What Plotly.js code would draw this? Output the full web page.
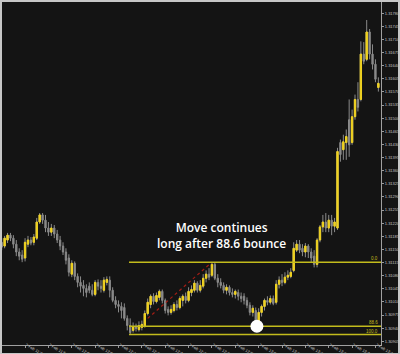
<!DOCTYPE html>
<html>
<head>
<meta charset="utf-8">
<script src="https://cdn.plot.ly/plotly-3.0.1.min.js"></script>
<style>
html,body{margin:0;padding:0;background:#141414;width:400px;height:354px;overflow:hidden;}
#chart{position:absolute;left:0;top:0;width:400px;height:354px;}
#frame{position:absolute;left:0;top:0;width:396px;height:351px;border:2px solid #c6c6c6;border-bottom-width:1px;pointer-events:none;}
</style>
</head>
<body>
<div id="chart"></div>
<div id="frame"></div>
<script>
// 1-minute candles, 7 Feb 11:36 onward
const opens = [1.31169,1.31159,1.31175,1.31188,1.31180,1.31164,1.31143,1.31135,1.31127,1.31164,
1.31175,1.31169,1.31180,1.31223,1.31242,1.31228,1.31207,1.31196,1.31207,1.31191,
1.31175,1.31159,1.31143,1.31127,1.31084,1.31113,1.31078,1.31062,1.31054,1.31046,
1.31052,1.31041,1.31030,1.31062,1.31052,1.31041,1.31062,1.31068,1.31041,1.31014,
1.31003,1.30998,1.30995,1.30966,1.30947,1.30934,1.30944,1.30936,1.30942,1.30944,
1.30979,1.31003,1.31025,1.31011,1.31022,1.31038,1.31014,1.30990,1.30982,1.30987,
1.31003,1.30995,1.31014,1.31025,1.31014,1.31035,1.31041,1.31060,1.31041,1.31052,
1.31073,1.31084,1.31081,1.31110,1.31073,1.31062,1.31054,1.31041,1.31049,1.31035,
1.31030,1.31035,1.31025,1.31025,1.31014,1.31001,1.30982,1.30987,1.30955,1.30982,
1.30998,1.31014,1.31009,1.31019,1.31009,1.31057,1.31068,1.31062,1.31076,1.31078,
1.31094,1.31148,1.31164,1.31153,1.31143,1.31159,1.31143,1.31132,1.31110,1.31175,
1.31210,1.31223,1.31207,1.31228,1.31212,1.31207,1.31435,1.31416,1.31435,1.31496,
1.31435,1.31504,1.31550,1.31550,1.31671,1.31657,1.31730,1.31671,1.31644,1.31582];
const highs = [1.31180,1.31186,1.31194,1.31194,1.31188,1.31175,1.31153,1.31148,1.31180,1.31186,
1.31183,1.31191,1.31234,1.31247,1.31247,1.31242,1.31223,1.31218,1.31215,1.31202,
1.31186,1.31169,1.31153,1.31137,1.31121,1.31118,1.31086,1.31078,1.31068,1.31057,
1.31062,1.31057,1.31068,1.31070,1.31068,1.31076,1.31078,1.31078,1.31049,1.31025,
1.31014,1.31009,1.31006,1.30974,1.30966,1.30955,1.30952,1.30958,1.30960,1.30987,
1.31019,1.31030,1.31033,1.31035,1.31043,1.31043,1.31019,1.30998,1.31001,1.31009,
1.31014,1.31025,1.31030,1.31035,1.31049,1.31054,1.31068,1.31065,1.31068,1.31084,
1.31094,1.31100,1.31116,1.31116,1.31084,1.31073,1.31062,1.31057,1.31054,1.31046,
1.31043,1.31043,1.31035,1.31033,1.31022,1.31009,1.31001,1.30995,1.30993,1.31003,
1.31019,1.31025,1.31027,1.31027,1.31068,1.31078,1.31084,1.31089,1.31094,1.31100,
1.31169,1.31175,1.31175,1.31164,1.31167,1.31164,1.31153,1.31148,1.31180,1.31215,
1.31242,1.31247,1.31242,1.31242,1.31234,1.31421,1.31443,1.31456,1.31470,1.31550,
1.31523,1.31563,1.31596,1.31705,1.31703,1.31762,1.31738,1.31697,1.31657,1.31609];
const lows = [1.31148,1.31153,1.31167,1.31172,1.31153,1.31132,1.31121,1.31116,1.31118,1.31156,
1.31161,1.31161,1.31175,1.31218,1.31218,1.31196,1.31186,1.31186,1.31180,1.31167,
1.31148,1.31135,1.31110,1.31078,1.31076,1.31068,1.31049,1.31035,1.31025,1.31022,
1.31033,1.31025,1.31025,1.31041,1.31035,1.31035,1.31054,1.31022,1.31009,1.30993,
1.30982,1.30966,1.30960,1.30934,1.30923,1.30928,1.30931,1.30931,1.30934,1.30942,
1.30974,1.30993,1.31003,1.31006,1.31014,1.31006,1.30979,1.30974,1.30976,1.30982,
1.30987,1.30990,1.30998,1.31006,1.31009,1.31025,1.31035,1.31035,1.31035,1.31046,
1.31062,1.31068,1.31076,1.31068,1.31049,1.31046,1.31033,1.31030,1.31027,1.31022,
1.31019,1.31014,1.31009,1.31003,1.30993,1.30974,1.30971,1.30942,1.30944,1.30971,
1.30987,1.31001,1.31003,1.31001,1.31003,1.31046,1.31052,1.31057,1.31068,1.31073,
1.31089,1.31143,1.31140,1.31132,1.31129,1.31127,1.31116,1.31102,1.31102,1.31169,
1.31196,1.31196,1.31196,1.31188,1.31196,1.31202,1.31384,1.31389,1.31389,1.31397,
1.31429,1.31496,1.31518,1.31545,1.31644,1.31652,1.31657,1.31630,1.31596,1.31571];
const closes = [1.31156,1.31180,1.31188,1.31180,1.31164,1.31143,1.31132,1.31124,1.31169,1.31175,
1.31167,1.31183,1.31223,1.31242,1.31228,1.31207,1.31196,1.31207,1.31191,1.31175,
1.31159,1.31143,1.31121,1.31089,1.31113,1.31078,1.31062,1.31052,1.31046,1.31035,
1.31041,1.31030,1.31062,1.31052,1.31046,1.31068,1.31070,1.31041,1.31014,1.31003,
1.30998,1.30987,1.30966,1.30947,1.30928,1.30944,1.30939,1.30947,1.30950,1.30979,
1.31009,1.31025,1.31011,1.31027,1.31038,1.31014,1.30987,1.30982,1.30990,1.31003,
1.30995,1.31019,1.31025,1.31014,1.31038,1.31043,1.31060,1.31041,1.31054,1.31073,
1.31084,1.31076,1.31110,1.31073,1.31062,1.31054,1.31041,1.31049,1.31035,1.31030,
1.31038,1.31025,1.31019,1.31014,1.31001,1.30982,1.30993,1.30955,1.30982,1.30998,
1.31014,1.31009,1.31019,1.31006,1.31057,1.31068,1.31062,1.31076,1.31081,1.31089,
1.31153,1.31164,1.31148,1.31143,1.31159,1.31143,1.31127,1.31110,1.31175,1.31210,
1.31223,1.31207,1.31228,1.31212,1.31223,1.31411,1.31403,1.31437,1.31451,1.31429,
1.31504,1.31550,1.31529,1.31671,1.31652,1.31730,1.31671,1.31644,1.31604,1.31593];

const tickLabels = ["7 Feb 11:36","7 Feb 11:44","7 Feb 11:52","7 Feb 12:00","7 Feb 12:08","7 Feb 12:16",
"7 Feb 12:24","7 Feb 12:32","7 Feb 12:40","7 Feb 12:48","7 Feb 12:56","7 Feb 13:04","7 Feb 13:12",
"7 Feb 13:20","7 Feb 13:28","7 Feb 13:36","7 Feb 13:44"];
const minutesPerTick = 8;

const fibLevels = [0.0, 88.6, 100.0];
const fibLabels = ["0.0", "88.6", "100.0"];
const swingLowIdx = 44;
const swingHighIdx = 72;
const bounceIdx = 87;
const trendX = [50, 72];
const trendY = [1.30966, 1.31116];
const noteText = "Move continues<br>long after 88.6 bounce";

const idx = opens.map((_, i) => i);
const swingHigh = highs[swingHighIdx];
const swingLow = lows[swingLowIdx];
const fibPrices = fibLevels.map(l => swingHigh - l / 100 * (swingHigh - swingLow));

const YEL = '#f0d21e';
const GRY = '#8a8a8a';
const FIB = '#c2bb1c';

// bullish bodies only (no wicks), drawn over the gray candles
const isBull = idx.map(i => closes[i] > opens[i]);
const bullO = idx.map(i => isBull[i] ? opens[i] : null);
const bullC = idx.map(i => isBull[i] ? closes[i] : null);

const traces = [
  {
    type: 'candlestick', x: idx, open: opens, high: highs, low: lows, close: closes,
    increasing: {line: {color: GRY, width: 1}, fillcolor: GRY},
    decreasing: {line: {color: GRY, width: 1}, fillcolor: GRY},
    whiskerwidth: 0, hoverinfo: 'skip', showlegend: false
  },
  {
    type: 'candlestick', x: idx, open: bullO, high: bullC, low: bullO, close: bullC,
    increasing: {line: {color: YEL, width: 1}, fillcolor: YEL},
    decreasing: {line: {color: YEL, width: 1}, fillcolor: YEL},
    whiskerwidth: 0, hoverinfo: 'skip', showlegend: false
  },
  {
    type: 'scatter', mode: 'lines', x: trendX, y: trendY,
    line: {color: '#a31d16', width: 1.2, dash: 'dot'}, hoverinfo: 'skip', showlegend: false
  },
  {
    type: 'scatter', mode: 'lines', x: [swingLowIdx - 0.4, idx.length + 1], y: [fibPrices[0], fibPrices[0]],
    line: {color: FIB, width: 1.5}, hoverinfo: 'skip', showlegend: false
  },
  {
    type: 'scatter', mode: 'lines', x: [swingLowIdx - 0.4, idx.length + 1], y: [fibPrices[1], fibPrices[1]],
    line: {color: FIB, width: 1.5}, hoverinfo: 'skip', showlegend: false
  },
  {
    type: 'scatter', mode: 'lines', x: [swingLowIdx - 0.4, idx.length + 1], y: [fibPrices[2], fibPrices[2]],
    line: {color: FIB, width: 1.5}, hoverinfo: 'skip', showlegend: false
  },
  {
    type: 'scatter', mode: 'markers', x: [bounceIdx + 0.4], y: [fibPrices[1]],
    marker: {color: '#ffffff', size: 13, line: {width: 0}}, hoverinfo: 'skip', showlegend: false
  }
];

const annotations = fibLabels.map((t, k) => ({
  xref: 'paper', x: 0.998, yref: 'y', y: fibPrices[k], xanchor: 'right', yanchor: 'bottom',
  text: t, showarrow: false, font: {family: 'Liberation Sans, Arial', size: 4.5, color: FIB}, yshift: -1
}));
annotations.push({
  xref: 'paper', yref: 'paper', x: 0.578, y: 0.318, xanchor: 'center', yanchor: 'middle',
  text: noteText, showarrow: false, align: 'center',
  font: {family: 'Open Sans', size: 12, color: '#ffffff', weight: 600}
});

const layout = {
  width: 400, height: 354,
  margin: {l: 2, r: 19, t: 2, b: 9, pad: 0},
  paper_bgcolor: '#141414', plot_bgcolor: '#141414',
  showlegend: false,
  boxgap: 0.35,
  xaxis: {
    range: [0.1, 129.9], showgrid: false, zeroline: false,
    rangeslider: {visible: false},
    tickmode: 'array',
    tickvals: tickLabels.map((_, k) => k * minutesPerTick),
    ticktext: tickLabels,
    ticks: 'outside', ticklen: 2, tickcolor: '#9a9a9a', tickwidth: 1,
    ticklabelposition: 'outside right',
    ticklabelstandoff: -5,
    tickfont: {family: 'Liberation Sans, Arial', size: 4, color: '#c4c4c4'},
    showline: true, linecolor: '#a0a0a0', linewidth: 1,
    fixedrange: true
  },
  yaxis: {
    side: 'right', range: [1.30895, 1.31810], showgrid: false, zeroline: false,
    tick0: 1.31780, dtick: 0.00035, tickformat: '.5f',
    ticks: 'outside', ticklen: 2, tickcolor: '#9a9a9a', tickwidth: 1,
    tickfont: {family: 'Liberation Sans, Arial', size: 4, color: '#c4c4c4'},
    showline: true, linecolor: '#a0a0a0', linewidth: 1,
    fixedrange: true
  },
  annotations: annotations
};

Plotly.newPlot('chart', traces, layout, {displayModeBar: false, staticPlot: true});
</script>
</body>
</html>
